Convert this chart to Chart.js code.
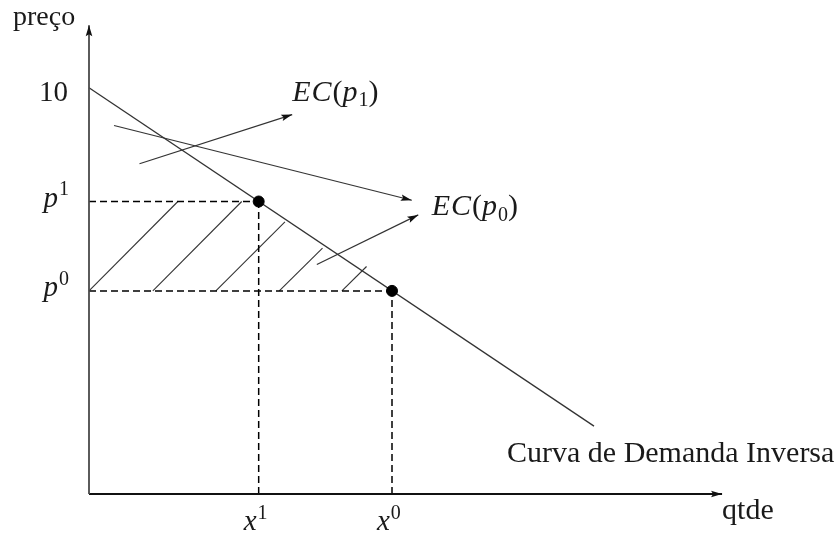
<!DOCTYPE html>
<html lang="pt">
<head>
<meta charset="UTF-8">
<title>Excedente do consumidor</title>
<script src="https://cdn.jsdelivr.net/npm/chart.js"></script>
<style>
  html, body { margin: 0; padding: 0; background: #fff; }
  #viz { display: block; }
</style>
</head>
<body>
<canvas id="viz" width="835" height="536"></canvas>
<script>
  // curva de demanda inversa (p = 10 - 2q/3)
  const demandaQ = [0, 12.5]
  const demandaP = [10, 1.67]

  // pontos de equilíbrio (x1, p1) e (x0, p0)
  const pontosQ = [4.2, 7.5]
  const pontosP = [7.2, 5]

  // marcas nos eixos
  const precoTicks = [10, 7.2, 5]
  const precoTickLabels = ['10', 'p^1', 'p^0']
  const qtdeTicks = [4.2, 7.5]
  const qtdeTickLabels = ['x^1', 'x^0']

  // hachura da variação do excedente (partem de p0)
  const hachuraInicioQ = [0, 1.58, 3.14, 4.71, 6.26]
  const hachuraFimQ = [2.2, 3.78, 4.85, 5.78, 6.87]
  const hachuraFimP = [7.2, 7.2, 6.7, 6.05, 5.6]

  // setas [q, p] -> [q, p]
  const setaEC1 = [[1.25, 8.13], [5.03, 9.34]]
  const setaLonga = [[0.62, 9.07], [7.99, 7.23]]
  const setaEC0 = [[5.64, 5.65], [8.15, 6.87]]

  const eixoQMax = 15.67
  const eixoPMax = 11.54

  const tinta = '#1a1a1a'
  const traco = '#333'

  const pts = (qs, ps) => qs.map((q, i) => ({ x: q, y: ps[i] }))
  const linha = (data, extra) => Object.assign({
    data, showLine: true, pointRadius: 0, borderColor: traco,
    borderWidth: 1.2, clip: false, fill: false
  }, extra || {})

  const p1 = pontosP[0], p0 = pontosP[1]
  const x1 = pontosQ[0], x0 = pontosQ[1]

  const datasets = [
    // pontos
    { data: pts(pontosQ, pontosP), showLine: false, pointRadius: 5.5,
      pointBackgroundColor: '#000', pointBorderColor: '#000', clip: false },
    // eixos
    linha([{ x: 0, y: 0 }, { x: 0, y: eixoPMax }], { borderColor: '#4a4a4a', borderWidth: 1.8, seta: true }),
    linha([{ x: 0, y: 0 }, { x: eixoQMax, y: 0 }], { borderColor: '#111', borderWidth: 1.8, seta: true }),
    // tracejadas
    linha([{ x: 0, y: p1 }, { x: x1, y: p1 }], { borderColor: '#000', borderWidth: 1.5, borderDash: [7, 4] }),
    linha([{ x: 0, y: p0 }, { x: x0, y: p0 }], { borderColor: '#000', borderWidth: 1.5, borderDash: [7, 4] }),
    linha([{ x: x1, y: 0 }, { x: x1, y: p1 }], { borderColor: '#000', borderWidth: 1.5, borderDash: [7, 4] }),
    linha([{ x: x0, y: 0 }, { x: x0, y: p0 }], { borderColor: '#000', borderWidth: 1.5, borderDash: [7, 4] }),
    // demanda
    linha(pts(demandaQ, demandaP), { borderWidth: 1.3 }),
    // setas
    linha(setaEC1.map(([q, p]) => ({ x: q, y: p })), { seta: true }),
    linha(setaLonga.map(([q, p]) => ({ x: q, y: p })), { seta: true }),
    linha(setaEC0.map(([q, p]) => ({ x: q, y: p })), { seta: true })
  ]
  hachuraInicioQ.forEach((q, i) => {
    datasets.push(linha([{ x: q, y: p0 }, { x: hachuraFimQ[i], y: hachuraFimP[i] }], { borderWidth: 1.1 }))
  })

  // ponta de seta no último ponto das linhas marcadas
  const setas = {
    id: 'setas',
    afterDatasetsDraw(chart) {
      const ctx = chart.ctx
      chart.data.datasets.forEach((ds, i) => {
        if (!ds.seta) return
        const el = chart.getDatasetMeta(i).data
        const a = el[el.length - 2], b = el[el.length - 1]
        const ang = Math.atan2(b.y - a.y, b.x - a.x)
        const len = 11, w = 3.3
        ctx.save()
        ctx.translate(b.x, b.y)
        ctx.rotate(ang)
        ctx.fillStyle = '#111'
        ctx.beginPath()
        ctx.moveTo(0, 0)
        ctx.lineTo(-len, -w)
        ctx.lineTo(-len + 2, 0)
        ctx.lineTo(-len, w)
        ctx.closePath()
        ctx.fill()
        ctx.restore()
      })
    }
  }

  // texto matemático: letras em itálico, ^ sobrescrito, _ subscrito
  function runs(str) {
    const out = []
    for (let i = 0; i < str.length; i++) {
      const c = str[i]
      if (c === '^' || c === '_') {
        out.push({ t: str[i + 1], mode: c })
        i++
      } else {
        out.push({ t: c, it: /[A-Za-z]/.test(c) })
      }
    }
    return out
  }

  function texto(ctx, str, x, y, opts) {
    const o = Object.assign({ size: 29, align: 'left', math: true }, opts || {})
    const partes = o.math ? runs(str) : [{ t: str }]
    const fonte = p => {
      const sz = p.mode ? Math.round(o.size * 0.68) : o.size
      return (p.it ? 'italic ' : '') + sz + 'px "Liberation Serif", "DejaVu Serif", serif'
    }
    let w = 0
    partes.forEach(p => { ctx.font = fonte(p); p.w = ctx.measureText(p.t).width; w += p.w })
    let cx = o.align === 'right' ? x - w : o.align === 'center' ? x - w / 2 : x
    ctx.fillStyle = tinta
    ctx.textBaseline = 'alphabetic'
    ctx.textAlign = 'left'
    partes.forEach(p => {
      ctx.font = fonte(p)
      const dy = p.mode === '^' ? -o.size * 0.38 : p.mode === '_' ? o.size * 0.18 : 0
      ctx.fillText(p.t, cx, y + dy)
      cx += p.w + (p.it ? 1 : 0)
    })
  }

  const rotulos = {
    id: 'rotulos',
    afterDatasetsDraw(chart) {
      const { ctx, scales: { x, y } } = chart
      ctx.save()
      precoTicks.forEach((v, i) => {
        const off = i === 0 ? 13.5 : 5
        texto(ctx, precoTickLabels[i], 68, y.getPixelForValue(v) + off, { align: 'right' })
      })
      qtdeTicks.forEach((v, i) => {
        texto(ctx, qtdeTickLabels[i], x.getPixelForValue(v) - 15, 530)
      })
      texto(ctx, 'preço', 13, 25, { size: 28, math: false })
      texto(ctx, 'qtde', x.getPixelForValue(eixoQMax), 519, { size: 30, math: false })
      texto(ctx, 'Curva de Demanda Inversa', 507, 462, { size: 30, math: false })
      const e1 = setaEC1[1], e0 = setaEC0[1]
      texto(ctx, 'EC(p_1)', x.getPixelForValue(e1[0]), y.getPixelForValue(e1[1]) - 13.5, { size: 30 })
      texto(ctx, 'EC(p_0)', x.getPixelForValue(e0[0]) + 13.5, y.getPixelForValue(e0[1]) + 0.5, { size: 30 })
      ctx.restore()
    }
  }

  new Chart(document.getElementById('viz'), {
    type: 'scatter',
    data: { datasets },
    options: {
      responsive: false,
      animation: false,
      events: [],
      layout: { padding: { left: 89, right: 99.6, top: 6.2, bottom: 42 } },
      plugins: { legend: { display: false }, tooltip: { enabled: false } },
      scales: {
        x: { type: 'linear', min: 0, max: 16, display: false },
        y: { type: 'linear', min: 0, max: 12, display: false }
      }
    },
    plugins: [setas, rotulos]
  })
</script>
</body>
</html>
